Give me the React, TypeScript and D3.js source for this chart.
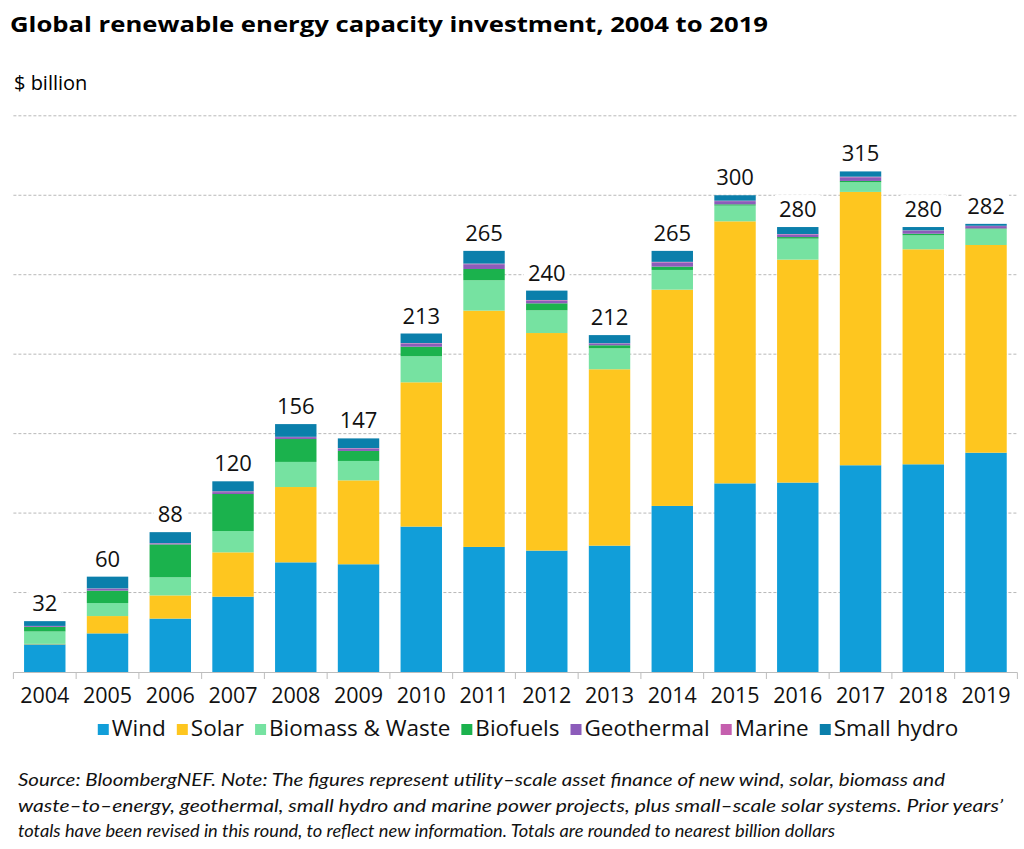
import React, { useEffect, useRef } from 'react';
import * as d3 from 'd3';

const years = ['2004','2005','2006','2007','2008','2009','2010','2011','2012','2013','2014','2015','2016','2017','2018','2019'];
const wind = [17.4, 24.3, 33.6, 47.4, 69.0, 67.8, 91.5, 78.7, 76.4, 79.5, 104.5, 118.7, 119.2, 130.1, 130.7, 138.0];
const solar = [0.3, 10.9, 14.6, 27.9, 47.4, 52.8, 90.8, 148.7, 136.9, 111.0, 136.1, 164.9, 140.3, 172.0, 135.3, 130.7];
const biomass = [7.8, 8.2, 11.4, 13.4, 15.8, 12.2, 16.4, 19.1, 14.3, 13.2, 12.4, 9.9, 13.2, 6.1, 8.8, 10.1];
const biofuels = [2.9, 7.8, 20.7, 23.3, 14.4, 6.3, 6.0, 7.1, 4.4, 1.9, 2.1, 0.8, 1.0, 0.8, 1.0, 0.3];
const geothermal = [0.5, 1.2, 0.6, 1.2, 1.2, 1.5, 2.0, 3.0, 1.8, 1.1, 2.6, 2.0, 1.6, 2.3, 1.8, 1.5];
const marine = [0.1, 0.2, 0.2, 0.5, 0.2, 0.3, 0.3, 0.4, 0.3, 0.2, 0.4, 0.3, 0.3, 0.4, 0.3, 0.2];
const smallHydro = [3.0, 7.4, 6.9, 6.3, 8.0, 6.1, 6.0, 8.0, 5.9, 5.1, 6.9, 3.4, 4.4, 3.3, 2.1, 1.2];
const totals = [32, 60, 88, 120, 156, 147, 213, 265, 240, 212, 265, 300, 280, 315, 280, 282];

const seriesNames = ['Wind', 'Solar', 'Biomass & Waste', 'Biofuels', 'Geothermal', 'Marine', 'Small hydro'];
const seriesValues = [wind, solar, biomass, biofuels, geothermal, marine, smallHydro];
const seriesColors = ['#119ed9', '#fec61f', '#76e2a1', '#1bb24d', '#8c5cba', '#c55fae', '#0b7fab'];
const gridTicks = [50, 100, 150, 200, 250, 300, 350];

const titleText = 'Global renewable energy capacity investment, 2004 to 2019';
const unitText = '$ billion';
const footnoteLines = [
  'Source: BloombergNEF. Note: The figures represent utility–scale asset finance of new wind, solar, biomass and',
  'waste–to–energy, geothermal, small hydro and marine power projects, plus small–scale solar systems. Prior years’',
  'totals have been revised in this round, to reflect new information. Totals are rounded to nearest billion dollars',
];
const footnoteWidths = [927, 985, 817];

const W = 1024;
const H = 849;
const FONT = '"Open Sans", Lato, sans-serif';
const FOOT_FONT = 'Lato, "Open Sans", sans-serif';

export default function App() {
  const ref = useRef<SVGSVGElement>(null);

  useEffect(() => {
    const svg = d3.select(ref.current);
    svg.selectAll('*').remove();

    const x = d3.scaleBand<string>().domain(years).range([13.4, 1017.4]).paddingInner(0.34).paddingOuter(0.17);
    const y = d3.scaleLinear().domain([0, 350]).range([672, 115.8]);

    // title
    svg.append('text').attr('x', 10).attr('y', 32).attr('font-family', FONT).attr('font-weight', 700)
      .attr('font-size', 21).attr('fill', '#000')
      .attr('textLength', 758).attr('lengthAdjust', 'spacingAndGlyphs').text(titleText);
    svg.append('text').attr('x', 14).attr('y', 90).attr('font-family', FONT)
      .attr('font-size', 20).attr('fill', '#000').text(unitText);

    // grid
    svg.append('g').selectAll('line').data(gridTicks).join('line')
      .attr('x1', 13.4).attr('x2', 1017.4)
      .attr('y1', (d) => y(d)).attr('y2', (d) => y(d))
      .attr('stroke', '#b8b8b8').attr('stroke-width', 1).attr('stroke-dasharray', '3,2');

    // stacked bars
    const rows = years.map((yr, i) => {
      const r: Record<string, any> = { year: yr };
      seriesNames.forEach((s, k) => { r[s] = seriesValues[k][i]; });
      return r;
    });
    const stack = d3.stack<Record<string, any>>().keys(seriesNames);
    const stacked = stack(rows);
    svg.append('g').selectAll('g').data(stacked).join('g')
      .attr('fill', (_d, k) => seriesColors[k])
      .selectAll('rect').data((d) => d).join('rect')
      .attr('x', (d) => x(d.data.year) as number)
      .attr('width', x.bandwidth())
      .attr('y', (d) => y(d[1]))
      .attr('height', (d) => Math.max(0, y(d[0]) - y(d[1])));

    // totals labels with white background
    const lg = svg.append('g');
    years.forEach((yr, i) => {
      const cx = (x(yr) as number) + x.bandwidth() / 2;
      const top = y(d3.sum(seriesValues, (s) => s[i]));
      const g = lg.append('g');
      const t = g.append('text').attr('x', cx).attr('y', top - 10).attr('text-anchor', 'middle')
        .attr('font-family', FONT).attr('font-size', 22).attr('fill', '#111').text(String(totals[i]));
      const bb = (t.node() as SVGTextElement).getBBox();
      g.insert('rect', 'text').attr('x', bb.x - 4).attr('y', bb.y + 2).attr('width', bb.width + 8)
        .attr('height', bb.height - 4).attr('fill', '#fff');
    });

    // axis
    const ax = svg.append('g');
    ax.append('line').attr('x1', 13.4).attr('x2', 1017.4).attr('y1', 672.5).attr('y2', 672.5)
      .attr('stroke', '#bdbdbd').attr('stroke-width', 1);
    const boundaries = years.map((yr) => (x(yr) as number) - x.step() * 0.17).concat([1017.4]);
    ax.selectAll('line.tick').data(boundaries).join('line').attr('class', 'tick')
      .attr('x1', (d) => d).attr('x2', (d) => d).attr('y1', 672.5).attr('y2', 679)
      .attr('stroke', '#bdbdbd').attr('stroke-width', 1);
    ax.selectAll('text').data(years).join('text')
      .attr('x', (d) => (x(d) as number) + x.bandwidth() / 2).attr('y', 703)
      .attr('text-anchor', 'middle').attr('font-family', FONT).attr('font-size', 21.5).attr('fill', '#111')
      .text((d) => d);

    // legend
    const leg = svg.append('g');
    const items: { g: any; w: number }[] = [];
    seriesNames.forEach((name, k) => {
      const g = leg.append('g');
      g.append('rect').attr('x', 0).attr('y', -12).attr('width', 11).attr('height', 11).attr('fill', seriesColors[k]);
      const t = g.append('text').attr('x', 14).attr('y', 0).attr('font-family', FONT).attr('font-size', 22.5)
        .attr('fill', '#111').text(name);
      const w = 14 + (t.node() as SVGTextElement).getComputedTextLength();
      items.push({ g, w });
    });
    const gap = 11;
    const totalW = d3.sum(items, (d) => d.w) + gap * (items.length - 1);
    let cur = 528 - totalW / 2;
    items.forEach((it) => {
      it.g.attr('transform', `translate(${cur},736)`);
      cur += it.w + gap;
    });

    // footnote
    svg.append('g').selectAll('text').data(footnoteLines).join('text')
      .attr('x', 18).attr('y', (_d, i) => 786 + i * 25.5)
      .attr('font-family', FOOT_FONT).attr('font-style', 'italic').attr('font-size', 18).attr('fill', '#111')
      .attr('textLength', (_d, i) => footnoteWidths[i]).attr('lengthAdjust', 'spacingAndGlyphs')
      .text((d) => d);
  }, []);

  return (
    <svg ref={ref} width={W} height={H} viewBox={`0 0 ${W} ${H}`}
      style={{ position: 'absolute', left: 0, top: 0, background: '#fff' }} />
  );
}
